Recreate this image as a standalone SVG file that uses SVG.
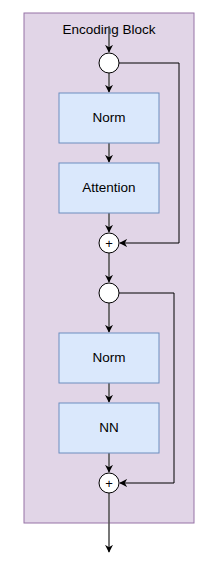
<svg xmlns="http://www.w3.org/2000/svg" width="217" height="563" viewBox="0 0 217 563">
<defs>
<style>
.box{fill:#dae8fc;stroke:#6c8ebf;stroke-width:1}
.circ{fill:#ffffff;stroke:#000000;stroke-width:1}
.lbl{font-family:"Liberation Sans",Arial,sans-serif;font-size:13.5px;fill:#000;text-anchor:middle}
.pl{font-family:"Liberation Sans",Arial,sans-serif;font-size:13px;fill:#000;text-anchor:middle}
.v{fill:none;stroke:#555555;stroke-width:1.6}
.b{fill:none;stroke:#000000;stroke-width:1}
</style>
<marker id="ah" viewBox="0 0 10 10" refX="9" refY="5" markerWidth="8" markerHeight="8" markerUnits="userSpaceOnUse" orient="auto">
<path d="M0,0 L10,5 L0,10 L3,5 Z" fill="#000"/>
</marker>
</defs>
<g id="container">
<rect x="24" y="13" width="170" height="510" fill="#e1d5e7" stroke="#9673a6" stroke-width="1"/>
<text class="lbl" x="109" y="34">Encoding Block</text>
</g>
<g id="connectors">
<line class="v" x1="109" y1="26" x2="109" y2="52" marker-end="url(#ah)"/>
<line class="v" x1="109" y1="73" x2="109" y2="92" marker-end="url(#ah)"/>
<line class="v" x1="109" y1="143" x2="109" y2="162" marker-end="url(#ah)"/>
<line class="v" x1="109" y1="213" x2="109" y2="232" marker-end="url(#ah)"/>
<line class="v" x1="109" y1="253" x2="109" y2="282" marker-end="url(#ah)"/>
<line class="v" x1="109" y1="303" x2="109" y2="332" marker-end="url(#ah)"/>
<line class="v" x1="109" y1="383" x2="109" y2="402" marker-end="url(#ah)"/>
<line class="v" x1="109" y1="453" x2="109" y2="472" marker-end="url(#ah)"/>
<line class="v" x1="109" y1="493" x2="109" y2="552" marker-end="url(#ah)"/>
<polyline class="b" points="119,63 179,63 179,243 120,243" marker-end="url(#ah)"/>
<polyline class="b" points="119,293 174,293 174,483 120,483" marker-end="url(#ah)"/>
</g>
<g id="split1"><circle class="circ" cx="109" cy="63" r="10"/></g>
<g id="norm1"><rect class="box" x="59" y="93" width="100" height="50"/><text class="lbl" x="109" y="122">Norm</text></g>
<g id="attention"><rect class="box" x="59" y="163" width="100" height="50"/><text class="lbl" x="109" y="192">Attention</text></g>
<g id="add1"><circle class="circ" cx="109" cy="243" r="10"/><text class="pl" x="109" y="247.5">+</text></g>
<g id="split2"><circle class="circ" cx="109" cy="293" r="10"/></g>
<g id="norm2"><rect class="box" x="59" y="333" width="100" height="50"/><text class="lbl" x="109" y="362">Norm</text></g>
<g id="nn"><rect class="box" x="59" y="403" width="100" height="50"/><text class="lbl" x="109" y="432">NN</text></g>
<g id="add2"><circle class="circ" cx="109" cy="483" r="10"/><text class="pl" x="109" y="487.5">+</text></g>
</svg>
